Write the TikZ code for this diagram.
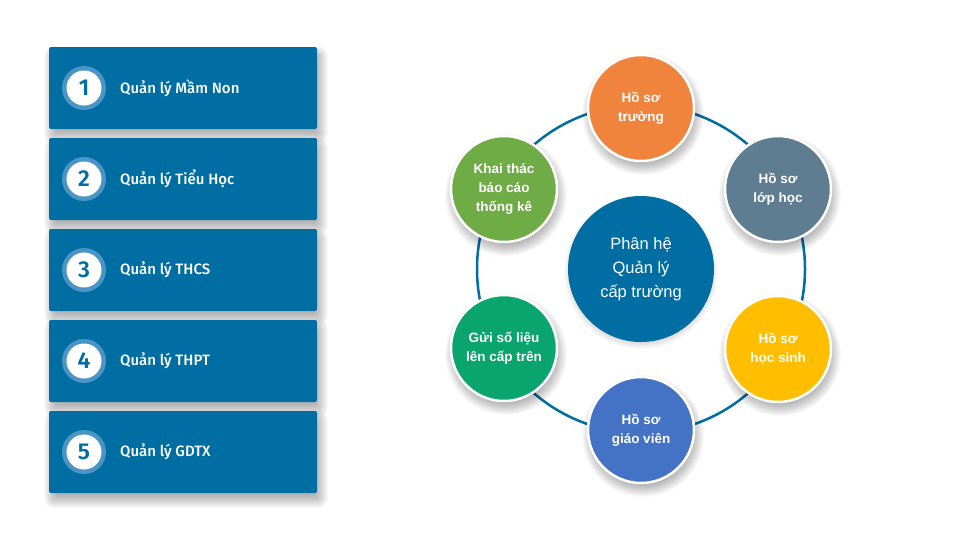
\documentclass[tikz,border=0pt]{standalone}
\usepackage{fontspec}
\setmainfont{Liberation Sans}
\newfontfamily\medfont{Fira Sans}[UprightFont=* Medium, BoldFont=* SemiBold]
\definecolor{mainblue}{HTML}{006DA3}
\definecolor{ringblue}{HTML}{4A95C6}
\definecolor{corange}{HTML}{F0843C}
\definecolor{cslate}{HTML}{5F7D91}
\definecolor{cyellow}{HTML}{FFBF00}
\definecolor{cblue}{HTML}{4472C4}
\definecolor{cgreen}{HTML}{0AA46E}
\definecolor{clgreen}{HTML}{6FAC46}
\tikzset{
  shadowlayer/.style={fill=black, opacity=0.025},
  menubox/.style={fill=mainblue, rounded corners=2pt, minimum width=268pt, minimum height=82pt, inner sep=0pt},
  numring/.style={circle, fill=ringblue, minimum size=44pt, inner sep=0pt},
  numdisc/.style={circle, fill=white, minimum size=35pt, inner sep=0pt, text=mainblue, font=\medfont\fontsize{23}{23}\selectfont\bfseries},
  menulabel/.style={anchor=west, text=white, font=\medfont\fontsize{15}{16}\selectfont, inner sep=0pt},
  sat/.style={circle, fill=#1, draw=white, line width=2.5pt, minimum size=106pt, inner sep=0pt, text=white, align=center,
    font=\fontsize{13.5}{19}\selectfont\bfseries},
  hub/.style={circle, fill=mainblue, minimum size=146pt, inner sep=0pt, text=white, align=center,
    font=\fontsize{16.5}{24}\selectfont}
}
\begin{document}
\begin{tikzpicture}[x=1pt,y=1pt]
\useasboundingbox[fill=white] (0,0) rectangle (960,-549);
% soft shadows of the menu boxes
\foreach \i in {1,...,5}{
  \foreach \k in {0,...,12}{
    \pgfmathsetmacro{\s}{\k-4}
    \pgfmathsetmacro{\yc}{-95-91*(\i-1)}
    \fill[shadowlayer, rounded corners={max(2,\s+2)*1pt}] (186-134-\s, \yc-41-\s) rectangle (186+134+\s, \yc+41+\s);
  }
}
% left menu
\foreach \i/\t in {1/Quản lý Mầm Non,2/Quản lý Tiểu Học,3/Quản lý THCS,4/Quản lý THPT,5/Quản lý GDTX}{
  \node[menubox] (b\i) at (183, {-88-91*(\i-1)}) {};
  \node[numring] (r\i) at (84, {-88-91*(\i-1)}) {};
  \node[numdisc] (n\i) at (r\i) {\i};
  \node[menulabel] (l\i) at (120, {-88-91*(\i-1)}) {\t};
}
% ring
\coordinate (ctr) at (641,-269);
\draw[mainblue, line width=2.5pt] (ctr) circle (164pt);
% soft shadows of the circles
\foreach \x/\y in {641/-108, 778/-189, 778/-349, 641/-430, 504/-348, 504/-189}{
  \foreach \k in {0,...,12}{
    \fill[shadowlayer] (\x+2, \y-6) circle ({49+\k});
  }
}
\foreach \k in {0,...,8}{
  \fill[black, opacity=0.02] (641, -272) circle ({69+\k});
}
\node[hub] (hub) at (ctr) {Phân hệ\\Quản lý\\cấp trường};
\node[sat=corange] (s1) at (641,-108) {Hồ sơ\\trường};
\node[sat=cslate] (s2) at (778,-189) {Hồ sơ\\lớp học};
\node[sat=cyellow] (s3) at (778,-349) {Hồ sơ\\học sinh};
\node[sat=cblue] (s4) at (641,-430) {Hồ sơ\\giáo viên};
\node[sat=cgreen] (s5) at (504,-348) {Gửi số liệu\\lên cấp trên};
\node[sat=clgreen] (s6) at (504,-189) {Khai thác\\báo cáo\\thống kê};
\end{tikzpicture}
\end{document}
